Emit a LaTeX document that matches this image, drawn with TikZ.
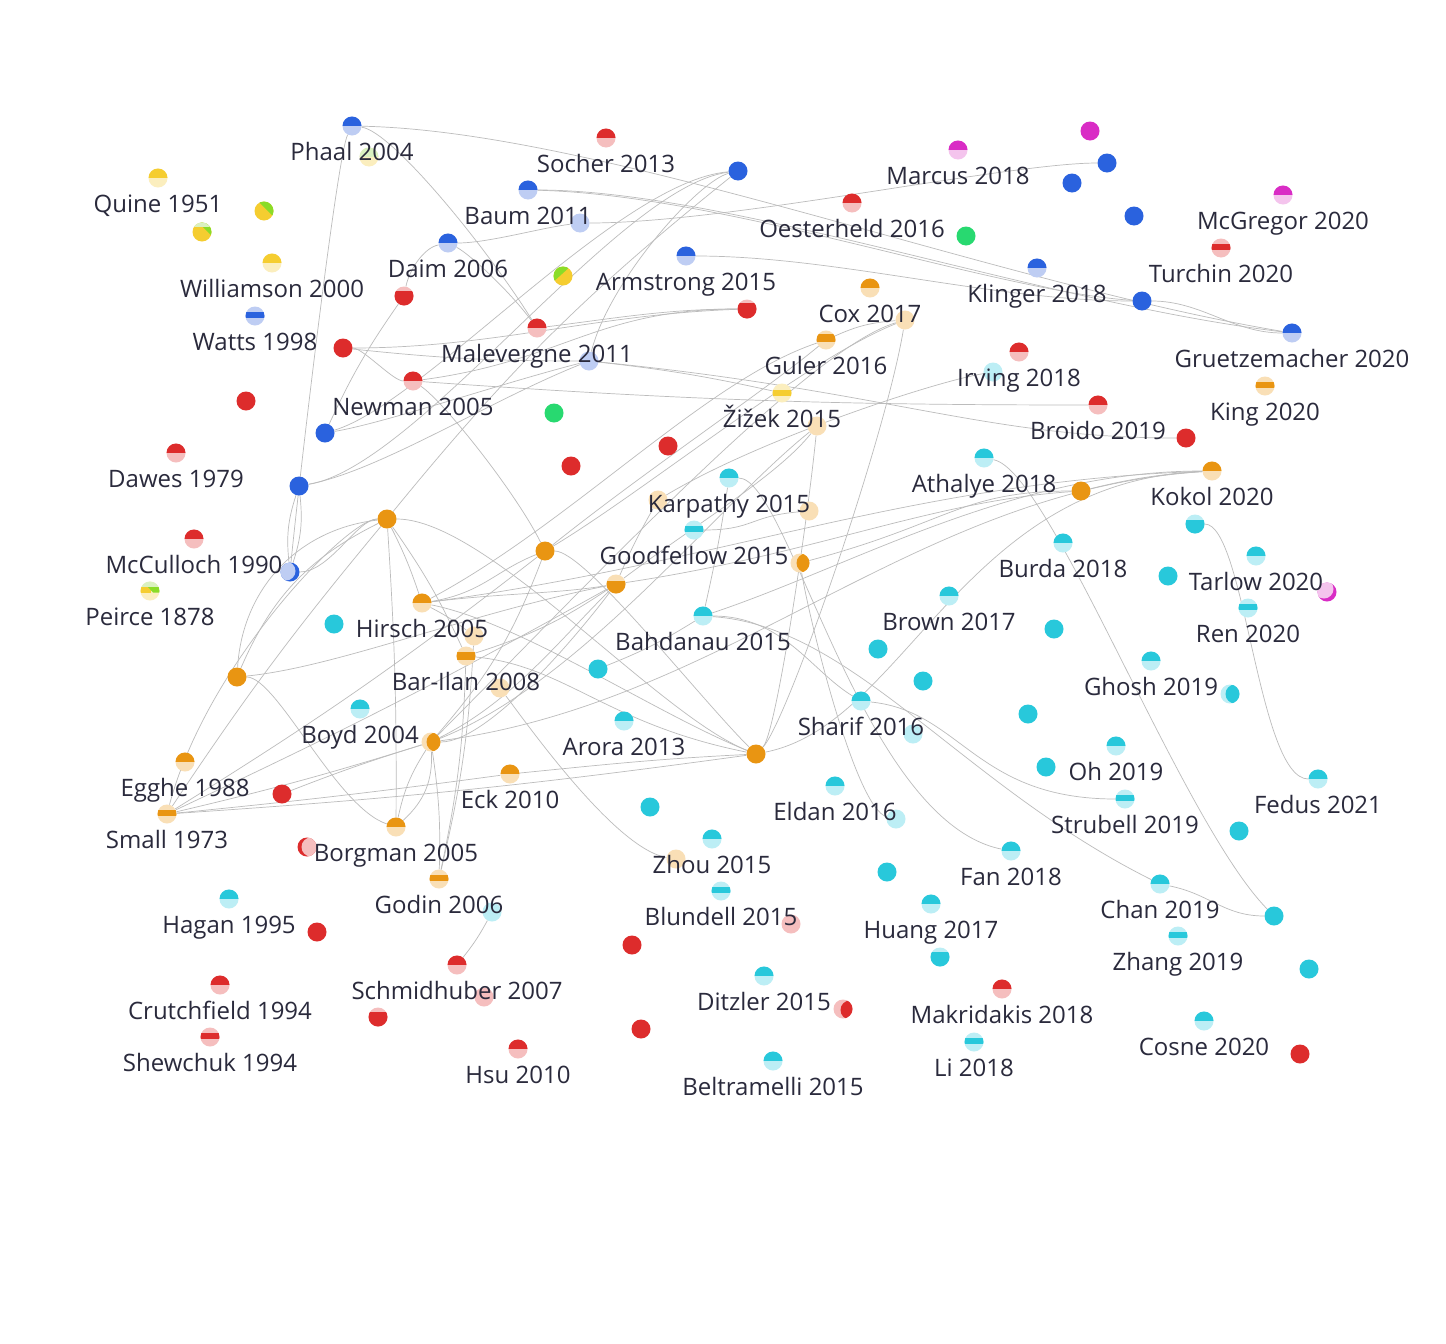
\documentclass[tikz,border=0pt]{standalone}
\usepackage{fontspec}
\setmainfont{Open Sans}
\usetikzlibrary{calc}
\pgfdeclarelayer{bg}
\pgfsetlayers{bg,main}
\definecolor{Rd}{RGB}{221,44,44}
\definecolor{Rl}{RGB}{245,190,190}
\definecolor{Bd}{RGB}{42,98,222}
\definecolor{Bl}{RGB}{190,205,243}
\definecolor{Od}{RGB}{233,149,18}
\definecolor{Ol}{RGB}{249,223,182}
\definecolor{Yd}{RGB}{245,205,48}
\definecolor{Yl}{RGB}{251,238,190}
\definecolor{Cd}{RGB}{40,200,219}
\definecolor{Cl}{RGB}{188,238,245}
\definecolor{Md}{RGB}{217,44,197}
\definecolor{Ml}{RGB}{244,196,237}
\definecolor{Gd}{RGB}{40,217,112}
\definecolor{Ld}{RGB}{138,220,40}
\definecolor{Ll}{RGB}{218,241,192}
\definecolor{cE}{RGB}{188,188,188}
\definecolor{cT}{RGB}{42,42,60}
\tikzset{
  dotb/.style={circle,inner sep=0pt,minimum size=19pt,draw=none},
  band/.style n args={4}{fill=#2,path picture={\coordinate (pp) at (path picture bounding box.center);
     \fill[#1] ($(pp)+(-11,#3)$) rectangle ($(pp)+(11,#4)$);}},
  half/.style 2 args={band={#1}{#2}{-11}{0}},
  stripe/.style 2 args={band={#1}{#2}{-4}{1.5}},
  moon/.style n args={4}{fill=#1,path picture={\coordinate (pp) at (path picture bounding box.center);
     \fill[#2] ($(pp)+(#3,#4)$) circle[radius=9.5];}},
  edge/.style={draw=cE,line width=0.7pt},
  lab/.style={anchor=base,inner sep=0pt,text=cT,font=\fontsize{24}{24}\selectfont},
}
\newcommand\nd[4]{\node[dotb,#4] (#1) at (#2,#3) {};}
\newcommand\lb[2]{\path (#1.center) ++(0,34) node[lab] (l#1) {#2};}
\newcommand\ec[4]{\draw[edge] (#1) .. controls +#2 and +#3 .. (#4);}
\newcommand\es[3]{\draw[edge] (#1) to[#3] (#2);}
\begin{document}
\begin{tikzpicture}[x=1pt,y=-1pt]
\useasboundingbox (0,0) rectangle (1446,1344);
\begin{pgfonlayer}{bg}
\fill[white] (0,0) rectangle (1446,1344);
\end{pgfonlayer}
% ---------- nodes ----------
\nd{phaal}{352}{126}{half={Bd}{Bl}}
\nd{ph2}{369}{157}{half={Ll}{Yl}}
\nd{socher}{606}{138}{half={Rd}{Rl}}
\nd{quine}{158}{178}{half={Yd}{Yl}}
\nd{dga}{264}{211}{fill=Yd,path picture={\coordinate (pp) at (path picture bounding box.center);
   \fill[Ld] ($(pp)+(-8,-12)$) -- ($(pp)+(12,-12)$) -- ($(pp)+(12,8)$) -- cycle;}}
\nd{dgb}{202}{232}{fill=Yd,path picture={\coordinate (pp) at (path picture bounding box.center);
   \fill[Ld] ($(pp)+(-6,-12)$) -- ($(pp)+(12,-12)$) -- ($(pp)+(12,6)$) -- cycle;
   \fill[Ll] ($(pp)+(-12,-12)$) rectangle ($(pp)+(12,-5)$);}}
\nd{will}{272}{263}{half={Yd}{Yl}}
\nd{watts}{255}{316}{stripe={Bd}{Bl}}
\nd{baum}{528}{190}{half={Bd}{Bl}}
\nd{baumL}{580}{223}{fill=Bl}
\nd{daim}{448}{243}{half={Bd}{Bl}}
\nd{rA}{404}{296}{band={Rd}{Rl}{-5}{11}}
\nd{dgc}{563}{276}{fill=Yd,path picture={\coordinate (pp) at (path picture bounding box.center);
   \fill[Ld] ($(pp)+(-12,-12)$) -- ($(pp)+(10,-12)$) -- ($(pp)+(-12,8)$) -- cycle;}}
\nd{arm}{686}{256}{half={Bd}{Bl}}
\nd{nT}{738}{171}{fill=Bd}
\nd{oest}{852}{203}{half={Rd}{Rl}}
\nd{marcus}{958}{150}{half={Md}{Ml}}
\nd{mA}{1090}{131}{fill=Md}
\nd{bB}{1107}{163}{fill=Bd}
\nd{bC}{1072}{183}{fill=Bd}
\nd{bD}{1134}{216}{fill=Bd}
\nd{gA}{966}{236}{fill=Gd}
\nd{mcg}{1283}{195}{half={Md}{Ml}}
\nd{turchin}{1221}{248}{stripe={Rd}{Rl}}
\nd{klinger}{1037}{268}{half={Bd}{Bl}}
\nd{bF}{1142}{301}{fill=Bd}
\nd{gruetz}{1292}{333}{half={Bd}{Bl}}
\nd{king}{1265}{386}{stripe={Od}{Ol}}
\nd{cox}{870}{288}{half={Od}{Ol}}
\nd{coxL}{905}{320}{fill=Ol}
\nd{guler}{826}{340}{band={Od}{Ol}{-6}{2}}
\nd{rC}{747}{309}{band={Rd}{Rl}{-6}{11}}
\nd{rW}{343}{348}{fill=Rd}
\nd{malev}{537}{328}{half={Rd}{Rl}}
\nd{newman}{413}{381}{half={Rd}{Rl}}
\nd{malevL}{589}{361}{fill=Bl}
\nd{irving}{1019}{352}{half={Rd}{Rl}}
\nd{irvL}{993}{372}{fill=Cl}
\nd{zizek}{782}{393}{band={Yd}{Yl}{-3}{3}}
\nd{zizL}{817}{426}{fill=Ol}
\nd{broido}{1098}{405}{half={Rd}{Rl}}
\nd{rK}{1186}{438}{fill=Rd}
\nd{rB}{246}{401}{fill=Rd}
\nd{gB}{554}{413}{fill=Gd}
\nd{bN}{325}{433}{fill=Bd}
\nd{dawes}{176}{453}{half={Rd}{Rl}}
\nd{rD}{668}{446}{fill=Rd}
\nd{rE}{571}{466}{fill=Rd}
\nd{bP}{299}{486}{fill=Bd}
\nd{athalye}{984}{458}{half={Cd}{Cl}}
\nd{kokol}{1212}{471}{half={Od}{Ol}}
\nd{oG}{1081}{491}{fill=Od}
\nd{karp}{729}{478}{half={Cd}{Cl}}
\nd{karpL}{658}{500}{fill=Ol}
\nd{oI}{809}{511}{fill=Ol}
\nd{oA}{387}{519}{fill=Od}
\nd{goodf}{694}{530}{stripe={Cd}{Cl}}
\nd{oB}{545}{551}{fill=Od}
\nd{oM}{800}{563}{moon={Ol}{Od}{6}{0}}
\nd{burda}{1063}{543}{half={Cd}{Cl}}
\nd{cK}{1195}{524}{band={Cd}{Cl}{-4}{11}}
\nd{tarlow}{1256}{556}{half={Cd}{Cl}}
\nd{cL}{1168}{576}{fill=Cd}
\nd{mM}{1327}{592}{moon={Md}{Ml}{-3}{-3}}
\nd{ren}{1248}{608}{stripe={Cd}{Cl}}
\nd{mcM}{290}{572}{moon={Bd}{Bl}{-4}{-1}}
\nd{mccul}{194}{539}{half={Rd}{Rl}}
\nd{peirce}{150}{591}{fill=Yl,path picture={\coordinate (pp) at (path picture bounding box.center);
   \fill[Ll] ($(pp)+(-12,-12)$) rectangle ($(pp)+(12,-4)$);
   \fill[Yd] ($(pp)+(-12,-4)$) rectangle ($(pp)+(1,1.5)$);
   \fill[Ld] ($(pp)+(-2,-4)$) -- ($(pp)+(12,-4)$) -- ($(pp)+(12,1.5)$) -- ($(pp)+(3,1.5)$) -- cycle;}}
\nd{oE}{616}{584}{band={Od}{Ol}{-3}{11}}
\nd{hirsch}{422}{603}{half={Od}{Ol}}
\nd{hirL}{474}{636}{fill=Ol}
\nd{cA}{334}{624}{fill=Cd}
\nd{brown}{949}{596}{half={Cd}{Cl}}
\nd{bahd}{703}{616}{half={Cd}{Cl}}
\nd{cB}{1054}{629}{fill=Cd}
\nd{barilan}{466}{656}{band={Od}{Ol}{-4}{4}}
\nd{oH}{500}{688}{fill=Ol}
\nd{cC}{878}{649}{fill=Cd}
\nd{oC}{237}{677}{fill=Od}
\nd{cD}{923}{681}{fill=Cd}
\nd{cE}{598}{669}{fill=Cd}
\nd{ghosh}{1151}{661}{half={Cd}{Cl}}
\nd{cM}{1230}{694}{moon={Cl}{Cd}{5}{0}}
\nd{cF}{1028}{714}{fill=Cd}
\nd{boyd}{360}{709}{half={Cd}{Cl}}
\nd{sharif}{861}{701}{half={Cd}{Cl}}
\nd{cG}{913}{734}{fill=Cl}
\nd{arora}{624}{721}{half={Cd}{Cl}}
\nd{oF}{431}{742}{moon={Ol}{Od}{5}{0}}
\nd{oD}{756}{754}{fill=Od}
\nd{oh}{1116}{746}{half={Cd}{Cl}}
\nd{cH}{1046}{767}{fill=Cd}
\nd{egghe}{185}{762}{half={Od}{Ol}}
\nd{eck}{510}{774}{half={Od}{Ol}}
\nd{rF}{282}{794}{fill=Rd}
\nd{eldan}{835}{786}{half={Cd}{Cl}}
\nd{fedus}{1318}{779}{half={Cd}{Cl}}
\nd{strubell}{1125}{799}{stripe={Cd}{Cl}}
\nd{small}{167}{814}{stripe={Od}{Ol}}
\nd{cI}{650}{807}{fill=Cd}
\nd{borgman}{396}{827}{half={Od}{Ol}}
\nd{cJ}{896}{819}{fill=Cl}
\nd{cN}{1239}{831}{fill=Cd}
\nd{rM}{307}{847}{moon={Rd}{Rl}{4}{0}}
\nd{zhou}{712}{839}{half={Cd}{Cl}}
\nd{zhouL}{676}{859}{fill=Ol}
\nd{fan}{1011}{851}{half={Cd}{Cl}}
\nd{godin}{439}{879}{stripe={Od}{Ol}}
\nd{cO}{887}{872}{fill=Cd}
\nd{chan}{1160}{884}{half={Cd}{Cl}}
\nd{hagan}{229}{899}{half={Cd}{Cl}}
\nd{cP}{492}{912}{fill=Cl}
\nd{blundell}{721}{891}{stripe={Cd}{Cl}}
\nd{rG}{791}{924}{fill=Rl}
\nd{huang}{931}{904}{half={Cd}{Cl}}
\nd{cQ}{1274}{916}{fill=Cd}
\nd{rH}{317}{932}{fill=Rd}
\nd{zhang}{1178}{936}{stripe={Cd}{Cl}}
\nd{rI}{632}{945}{fill=Rd}
\nd{cR}{940}{957}{band={Cd}{Cl}{-5}{11}}
\nd{schmid}{457}{965}{half={Rd}{Rl}}
\nd{cS}{1309}{969}{fill=Cd}
\nd{ditzler}{764}{976}{half={Cd}{Cl}}
\nd{crutch}{220}{985}{half={Rd}{Rl}}
\nd{rJ}{484}{997}{fill=Rl}
\nd{makrid}{1002}{989}{half={Rd}{Rl}}
\nd{rN}{843}{1009}{moon={Rl}{Rd}{7}{1}}
\nd{rO}{378}{1017}{band={Rd}{Rl}{-5}{11}}
\nd{rP}{641}{1029}{fill=Rd}
\nd{shew}{210}{1037}{stripe={Rd}{Rl}}
\nd{li}{974}{1042}{stripe={Cd}{Cl}}
\nd{cosne}{1204}{1021}{half={Cd}{Cl}}
\nd{hsu}{518}{1049}{half={Rd}{Rl}}
\nd{rQ}{1300}{1054}{fill=Rd}
\nd{belt}{773}{1061}{half={Cd}{Cl}}
% ---------- edges ----------
\begin{pgfonlayer}{bg}
\ec{phaal}{(250,5)}{(-300,-50)}{gruetz}
\ec{baum}{(200,0)}{(-250,-30)}{gruetz}
\ec{baum}{(200,5)}{(-150,-10)}{bF}
\ec{arm}{(150,0)}{(-150,0)}{bF}
\ec{bF}{(60,0)}{(-60,0)}{gruetz}
\ec{bB}{(-100,0)}{(150,0)}{baumL}
\ec{daim}{(40,0)}{(-40,5)}{baumL}
\ec{phaal}{(-15,30)}{(10,-100)}{mcM}
\ec{phaal}{(40,5)}{(-50,-80)}{malev}
\ec{daim}{(20,10)}{(-30,-40)}{malev}
\ec{daim}{(-25,5)}{(5,-25)}{rA}
\es{rA}{bN}{bend right=5}
\ec{bN}{(60,-10)}{(-80,20)}{malevL}
\ec{bP}{(80,-15)}{(-100,40)}{malevL}
\ec{bN}{(100,-30)}{(-120,10)}{nT}
\ec{bP}{(120,-20)}{(-120,15)}{nT}
\es{oA}{nT}{bend left=6}
\ec{nT}{(-40,10)}{(20,-80)}{malevL}
\es{bP}{mcM}{bend left=12}
\es{bP}{mcM}{bend right=12}
\ec{mcM}{(40,0)}{(-30,0)}{oA}
\es{rW}{malevL}{bend right=3}
\ec{rW}{(150,0)}{(-150,5)}{rC}
\ec{rW}{(20,0)}{(-20,0)}{newman}
\ec{newman}{(150,-20)}{(-150,0)}{rC}
\ec{malev}{(80,-10)}{(-80,0)}{rC}
\es{newman}{broido}{bend right=2}
\ec{malevL}{(300,30)}{(-200,0)}{rK}
\es{malevL}{zizek}{bend left=3}
\ec{newman}{(30,20)}{(-30,-60)}{oB}
% orange cluster
\es{oA}{oC}{bend right=20}
\es{oA}{oC}{bend right=40}
\ec{oA}{(-40,0)}{(40,-150)}{small}
\es{oA}{borgman}{bend left=2}
\es{oA}{hirsch}{bend left=4}
\ec{oA}{(100,0)}{(-100,-40)}{oD}
\es{oA}{barilan}{bend left=5}
\ec{oC}{(100,-10)}{(-150,30)}{oE}
\ec{oC}{(40,0)}{(-60,-20)}{borgman}
\es{small}{oA}{bend left=3}
\es{small}{oB}{bend right=3}
\es{small}{oE}{bend right=2}
\es{small}{oF}{bend right=2}
\es{small}{eck}{bend right=1}
\es{small}{oD}{bend right=2}
\es{rF}{oF}{bend left=2}
\es{oF}{borgman}{bend left=25}
\es{oF}{borgman}{bend right=10}
\es{oF}{godin}{bend left=5}
\ec{oF}{(80,-40)}{(-60,60)}{oE}
\ec{oF}{(60,0)}{(-30,40)}{oE}
\ec{oF}{(300,-40)}{(-300,20)}{kokol}
\es{oF}{oB}{bend right=10}
\ec{oF}{(150,-60)}{(-100,80)}{zizL}
\ec{hirsch}{(60,-10)}{(-50,20)}{oB}
\ec{hirsch}{(80,-10)}{(-60,10)}{oE}
\ec{hirsch}{(100,20)}{(-100,-40)}{oD}
\ec{hirsch}{(300,-40)}{(-300,10)}{kokol}
\es{hirsch}{hirL}{bend left=5}
\ec{oB}{(40,0)}{(-60,-60)}{oD}
\ec{oB}{(100,-60)}{(-100,40)}{coxL}
\ec{oB}{(100,-80)}{(-60,50)}{guler}
\ec{oE}{(200,-30)}{(-150,10)}{oG}
\ec{oE}{(80,-60)}{(-40,50)}{zizL}
\es{oE}{karpL}{bend left=3}
\ec{oD}{(150,-30)}{(-250,10)}{kokol}
\ec{oD}{(20,-20)}{(-10,100)}{zizL}
\ec{oD}{(30,-30)}{(-20,120)}{coxL}
\ec{eck}{(100,-10)}{(-100,5)}{oD}
\ec{barilan}{(100,10)}{(-150,-30)}{oD}
\es{barilan}{oE}{bend right=8}
\es{godin}{barilan}{bend right=5}
\es{godin}{hirL}{bend right=5}
\ec{oH}{(30,40)}{(-60,-10)}{zhouL}
\es{cP}{schmid}{bend left=5}
\es{coxL}{guler}{bend right=10}
\ec{coxL}{(-100,30)}{(150,-150)}{oF}
\ec{guler}{(-120,40)}{(150,-80)}{hirsch}
\ec{irvL}{(-60,10)}{(100,-60)}{karpL}
\ec{oM}{(150,-40)}{(-120,0)}{oG}
\es{oG}{kokol}{bend left=5}
% cyan
\es{karp}{bahd}{bend left=2}
\ec{karp}{(60,0)}{(-150,-30)}{fan}
\ec{goodf}{(60,0)}{(-60,5)}{oI}
\ec{bahd}{(150,10)}{(-200,-100)}{chan}
\ec{bahd}{(80,0)}{(-50,-30)}{sharif}
\ec{sharif}{(100,10)}{(-150,0)}{strubell}
\ec{bahd}{(150,-50)}{(-200,0)}{kokol}
\es{cE}{bahd}{bend right=5}
\ec{oM}{(10,60)}{(-40,-10)}{cJ}
\ec{athalye}{(66,12)}{(-94,-96)}{cQ}
\ec{chan}{(50,10)}{(-50,0)}{cQ}
\ec{cK}{(50,0)}{(-60,0)}{fedus}
\end{pgfonlayer}
% ---------- labels ----------
\lb{phaal}{Phaal 2004}
\lb{socher}{Socher 2013}
\lb{quine}{Quine 1951}
\lb{will}{Williamson 2000}
\lb{watts}{Watts 1998}
\lb{baum}{Baum 2011}
\lb{daim}{Daim 2006}
\lb{arm}{Armstrong 2015}
\lb{oest}{Oesterheld 2016}
\lb{marcus}{Marcus 2018}
\lb{mcg}{McGregor 2020}
\lb{turchin}{Turchin 2020}
\lb{klinger}{Klinger 2018}
\lb{gruetz}{Gruetzemacher 2020}
\lb{king}{King 2020}
\lb{cox}{Cox 2017}
\lb{guler}{Guler 2016}
\lb{malev}{Malevergne 2011}
\lb{newman}{Newman 2005}
\lb{irving}{Irving 2018}
\lb{zizek}{Žižek 2015}
\lb{broido}{Broido 2019}
\lb{dawes}{Dawes 1979}
\lb{athalye}{Athalye 2018}
\lb{kokol}{Kokol 2020}
\lb{karp}{Karpathy 2015}
\lb{goodf}{Goodfellow 2015}
\lb{burda}{Burda 2018}
\lb{tarlow}{Tarlow 2020}
\lb{ren}{Ren 2020}
\lb{mccul}{McCulloch 1990}
\lb{peirce}{Peirce 1878}
\lb{hirsch}{Hirsch 2005}
\lb{brown}{Brown 2017}
\lb{bahd}{Bahdanau 2015}
\lb{barilan}{Bar-Ilan 2008}
\lb{ghosh}{Ghosh 2019}
\lb{boyd}{Boyd 2004}
\lb{sharif}{Sharif 2016}
\lb{arora}{Arora 2013}
\lb{oh}{Oh 2019}
\lb{egghe}{Egghe 1988}
\lb{eck}{Eck 2010}
\lb{eldan}{Eldan 2016}
\lb{fedus}{Fedus 2021}
\lb{strubell}{Strubell 2019}
\lb{small}{Small 1973}
\lb{borgman}{Borgman 2005}
\lb{zhou}{Zhou 2015}
\lb{fan}{Fan 2018}
\lb{godin}{Godin 2006}
\lb{chan}{Chan 2019}
\lb{hagan}{Hagan 1995}
\lb{blundell}{Blundell 2015}
\lb{huang}{Huang 2017}
\lb{zhang}{Zhang 2019}
\lb{schmid}{Schmidhuber 2007}
\lb{ditzler}{Ditzler 2015}
\lb{crutch}{Crutchfield 1994}
\lb{makrid}{Makridakis 2018}
\lb{shew}{Shewchuk 1994}
\lb{li}{Li 2018}
\lb{cosne}{Cosne 2020}
\lb{hsu}{Hsu 2010}
\lb{belt}{Beltramelli 2015}
\end{tikzpicture}
\end{document}
